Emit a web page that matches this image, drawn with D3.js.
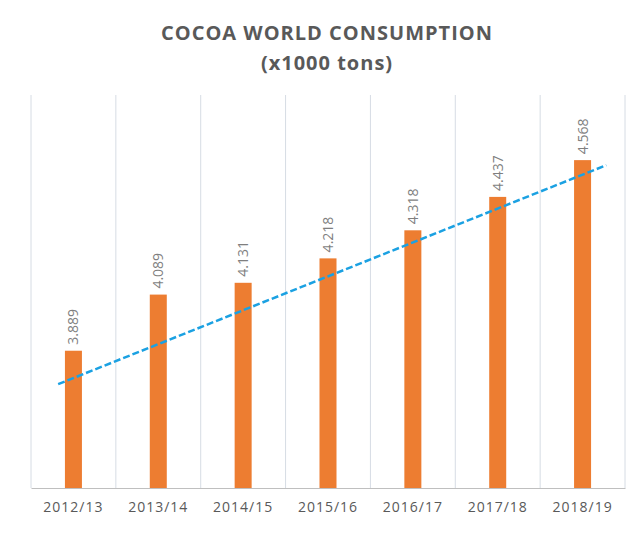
<!DOCTYPE html>
<html><head><meta charset="utf-8">
<script src="https://cdn.jsdelivr.net/npm/d3@7"></script>
<style>body{margin:0;background:#fff}</style></head>
<body><svg id="chart" width="644" height="535"></svg>
<script>
// values
const seasons = ["2012/13","2013/14","2014/15","2015/16","2016/17","2017/18","2018/19"];
const consumption = [3.889, 4.089, 4.131, 4.218, 4.318, 4.437, 4.568];
// dashed trend line as drawn in the source (index, value)
const trendEnds = [[-0.18, 3.77], [6.28, 4.55]];

const svg = d3.select("#chart");
const plotLeft = 31, plotRight = 625, plotTop = 95, plotBottom = 488;

const x = d3.scaleBand().domain(seasons).range([plotLeft, plotRight]);
const y = d3.scaleLinear().domain([3.4, 4.8]).range([plotBottom, plotTop]);
const xi = d3.scaleLinear().domain([0, 6]).range([x(seasons[0]) + x.bandwidth() / 2, x(seasons[6]) + x.bandwidth() / 2]);

// title
svg.append("text").attr("x", 327).attr("y", 40).attr("text-anchor", "middle")
  .attr("font-family", "Open Sans").attr("font-weight", "bold").attr("font-size", 20)
  .attr("fill", "#595959").attr("letter-spacing", 1).text("COCOA WORLD CONSUMPTION");
svg.append("text").attr("x", 327).attr("y", 70).attr("text-anchor", "middle")
  .attr("font-family", "Open Sans").attr("font-weight", "bold").attr("font-size", 20)
  .attr("fill", "#595959").attr("letter-spacing", 1).text("(x1000 tons)");

// vertical grid at band edges
const edges = seasons.map(s => x(s)).concat([plotRight]);
svg.selectAll(".grid").data(edges).enter().append("line")
  .attr("x1", d => d).attr("x2", d => d).attr("y1", plotTop).attr("y2", plotBottom)
  .attr("stroke", "#d6dce4").attr("stroke-width", 1);

// bars
const bw = 17;
svg.selectAll(".bar").data(consumption).enter().append("rect")
  .attr("x", (d, i) => x(seasons[i]) + x.bandwidth() / 2 - bw / 2)
  .attr("width", bw)
  .attr("y", d => y(d)).attr("height", d => plotBottom - y(d))
  .attr("fill", "#ed7d31");

// value labels
svg.selectAll(".lbl").data(consumption).enter().append("text")
  .attr("transform", (d, i) => `translate(${x(seasons[i]) + x.bandwidth() / 2 + 5},${y(d) - 6}) rotate(-90)`)
  .attr("font-family", "Open Sans").attr("font-size", 14).attr("fill", "#7f7f7f")
  .text(d => d.toFixed(3));

// axis
const axis = svg.append("g").attr("transform", `translate(0,${plotBottom})`)
  .call(d3.axisBottom(x).tickSize(0).tickPadding(14));
axis.select(".domain").attr("stroke", "#bfbfbf");
axis.selectAll("text").attr("font-family", "Open Sans").attr("font-size", 14)
  .attr("fill", "#595959").attr("letter-spacing", 1);

// trend line
svg.append("line")
  .attr("x1", xi(trendEnds[0][0])).attr("y1", y(trendEnds[0][1]))
  .attr("x2", xi(trendEnds[1][0])).attr("y2", y(trendEnds[1][1]))
  .attr("stroke", "#1ba1e2").attr("stroke-width", 2.5).attr("stroke-dasharray", "7,3");
</script></body></html>
